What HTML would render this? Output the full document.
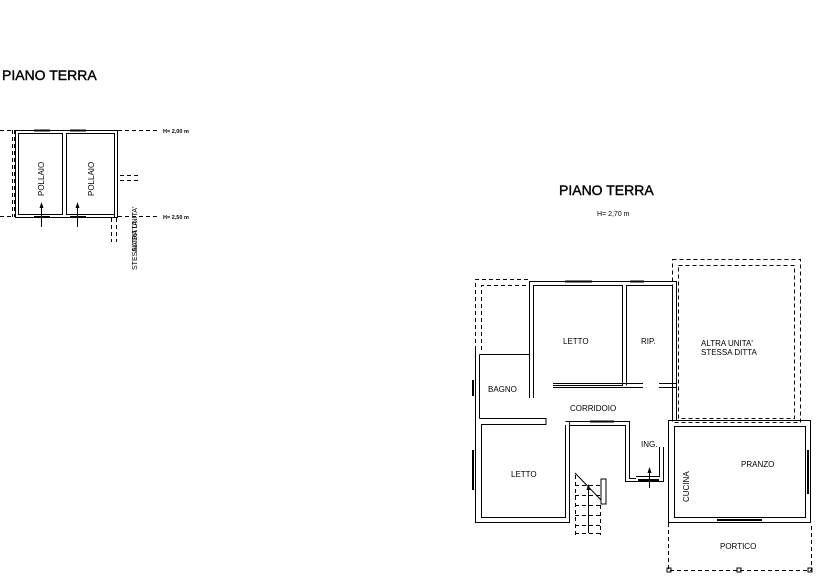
<!DOCTYPE html>
<html><head><meta charset="utf-8"><style>
html,body{margin:0;padding:0;background:#fff;}
svg{display:block;}
text{font-family:"Liberation Sans",sans-serif;fill:#000;}
</style></head><body>
<svg width="820" height="583" viewBox="0 0 820 583" xmlns="http://www.w3.org/2000/svg">
<g fill="none" stroke="#000" stroke-width="1">
<rect x="15.5" y="130.5" width="102" height="87"/>
<rect x="18.5" y="133.5" width="44" height="81"/>
<rect x="66.5" y="133.5" width="48" height="81"/>
<g stroke-dasharray="4,3">
<line x1="0" y1="130.5" x2="15" y2="130.5"/>
<line x1="0" y1="216.5" x2="15" y2="216.5"/>
<line x1="12.5" y1="130" x2="12.5" y2="217"/>
<line x1="14.5" y1="130" x2="14.5" y2="217"/>
<line x1="118" y1="130.5" x2="160" y2="130.5"/>
<line x1="118" y1="216.5" x2="160" y2="216.5"/>
<line x1="120" y1="175.5" x2="140" y2="175.5"/>
<line x1="120" y1="180.5" x2="140" y2="180.5"/>
<line x1="111.5" y1="218" x2="111.5" y2="242"/>
<line x1="116.5" y1="218" x2="116.5" y2="242"/>
</g>
<line x1="114.5" y1="175" x2="114.5" y2="217"/>
<line x1="41.5" y1="205" x2="41.5" y2="227"/>
<line x1="77.5" y1="205" x2="77.5" y2="227"/>
<line x1="34" y1="130.5" x2="50" y2="130.5" stroke-width="2"/>
<line x1="70" y1="130.5" x2="86" y2="130.5" stroke-width="2"/>
<line x1="34" y1="217" x2="50" y2="217" stroke-width="2"/>
<line x1="70" y1="217" x2="86" y2="217" stroke-width="2"/>

<g stroke-dasharray="4,3">
<polyline points="475.5,350 475.5,279.5 529,279.5"/>
<polyline points="481.5,350 481.5,285.5 529,285.5"/>
<rect x="672.5" y="259.5" width="128" height="163"/>
<rect x="678.5" y="265.5" width="116" height="153"/>
<polyline points="668.5,523 668.5,570.5 811.5,570.5 811.5,523"/>
<polyline points="575.5,475 575.5,535"/>
<polyline points="600.5,505 600.5,535"/>
<line x1="575" y1="485.5" x2="600" y2="485.5"/>
<line x1="575" y1="495.5" x2="600" y2="495.5"/>
<line x1="575" y1="505.5" x2="600" y2="505.5"/>
<line x1="575" y1="515.5" x2="600" y2="515.5"/>
<line x1="575" y1="525.5" x2="600" y2="525.5"/>
<line x1="575" y1="533.5" x2="600" y2="533.5"/>
</g>
<rect x="667" y="568" width="4" height="4"/>
<rect x="737" y="568" width="4" height="4"/>
<rect x="808" y="568" width="4" height="4"/>
<polyline points="529.5,398 529.5,281.5 676.5,281.5 676.5,420"/>
<polyline points="533.5,398 533.5,285.5 622.5,285.5 622.5,385.5 553,385.5"/>
<polyline points="626.5,385.5 626.5,285.5 672.5,285.5 672.5,420"/>
<line x1="553" y1="383.5" x2="643" y2="383.5"/>
<line x1="553" y1="387.5" x2="643" y2="387.5"/>
<line x1="659" y1="383.5" x2="676" y2="383.5"/>
<line x1="659" y1="387.5" x2="676" y2="387.5"/>
<line x1="565" y1="281.5" x2="592" y2="281.5" stroke-width="2"/>
<line x1="630" y1="281.5" x2="644" y2="281.5" stroke-width="2"/>
<polyline points="475.5,350 475.5,522.5 569.5,522.5 569.5,421.5 565.5,421.5"/>
<polyline points="479.5,354.5 529.5,354.5 529.5,398"/>
<line x1="479.5" y1="354.5" x2="479.5" y2="418.5"/>
<polyline points="479.5,418.5 546,418.5 546,424.5 481.5,424.5 481.5,517.5 565.5,517.5 565.5,425"/>
<line x1="473" y1="380" x2="473" y2="396" stroke-width="2"/>
<line x1="473" y1="450" x2="473" y2="490" stroke-width="2"/>
<polyline points="565.5,421.5 629.5,421.5 629.5,478.5 636,478.5"/>
<polyline points="569.5,425.5 625.5,425.5 625.5,481.5 663.5,481.5 663.5,447"/>
<polyline points="636,476.5 659.5,476.5 659.5,447"/>
<line x1="590" y1="421.5" x2="614" y2="421.5" stroke-width="2"/>
<line x1="638" y1="480" x2="659" y2="480" stroke-width="2"/>
<line x1="649.5" y1="470" x2="649.5" y2="488"/>
<rect x="668.5" y="420.5" width="142" height="102"/>
<rect x="674.5" y="426.5" width="131" height="91"/>
<line x1="717" y1="520" x2="762" y2="520" stroke-width="2"/>
<line x1="808" y1="450" x2="808" y2="494" stroke-width="2"/>
<rect x="601" y="479" width="5" height="25"/>
<line x1="575" y1="473" x2="601" y2="500"/>
<line x1="588.5" y1="487" x2="588.5" y2="533"/>
</g>
<g fill="#000">
<polygon points="41.5,202 39.5,208 43.5,208"/>
<polygon points="77.5,202 75.5,208 79.5,208"/>
<polygon points="649.5,467 647.5,473 651.5,473"/>
<polygon points="588.5,484 586.5,490 590.5,490"/>
</g>
<text x="2" y="80" font-size="14" stroke="#000" stroke-width="0.4">PIANO TERRA</text>
<text x="163" y="133" font-size="5.5" font-weight="bold">H= 2,00 m</text>
<text x="163" y="219" font-size="5.5" font-weight="bold">H= 2,50 m</text>
<text transform="translate(44,196) rotate(-90)" font-size="8">POLLAIO</text>
<text transform="translate(94,196) rotate(-90)" font-size="8">POLLAIO</text>
<text transform="translate(137,270) rotate(-90)" font-size="7">STESSA DITTA</text>
<text transform="translate(137,252) rotate(-90)" font-size="7">ALTRA UNITA'</text>
<text x="559" y="195" font-size="14" stroke="#000" stroke-width="0.4">PIANO TERRA</text>
<text x="597" y="216" font-size="7">H= 2,70 m</text>
<text x="563" y="344" font-size="8">LETTO</text>
<text x="641" y="344" font-size="8">RIP.</text>
<text x="701" y="346" font-size="8">ALTRA UNITA'</text>
<text x="701" y="355" font-size="8">STESSA DITTA</text>
<text x="488" y="392" font-size="8">BAGNO</text>
<text x="570" y="411" font-size="8">CORRIDOIO</text>
<text x="641" y="447" font-size="8">ING.</text>
<text x="511" y="477" font-size="8">LETTO</text>
<text x="741" y="467" font-size="8">PRANZO</text>
<text transform="translate(689,502) rotate(-90)" font-size="8">CUCINA</text>
<text x="720" y="549" font-size="8">PORTICO</text>
</svg>
</body></html>
